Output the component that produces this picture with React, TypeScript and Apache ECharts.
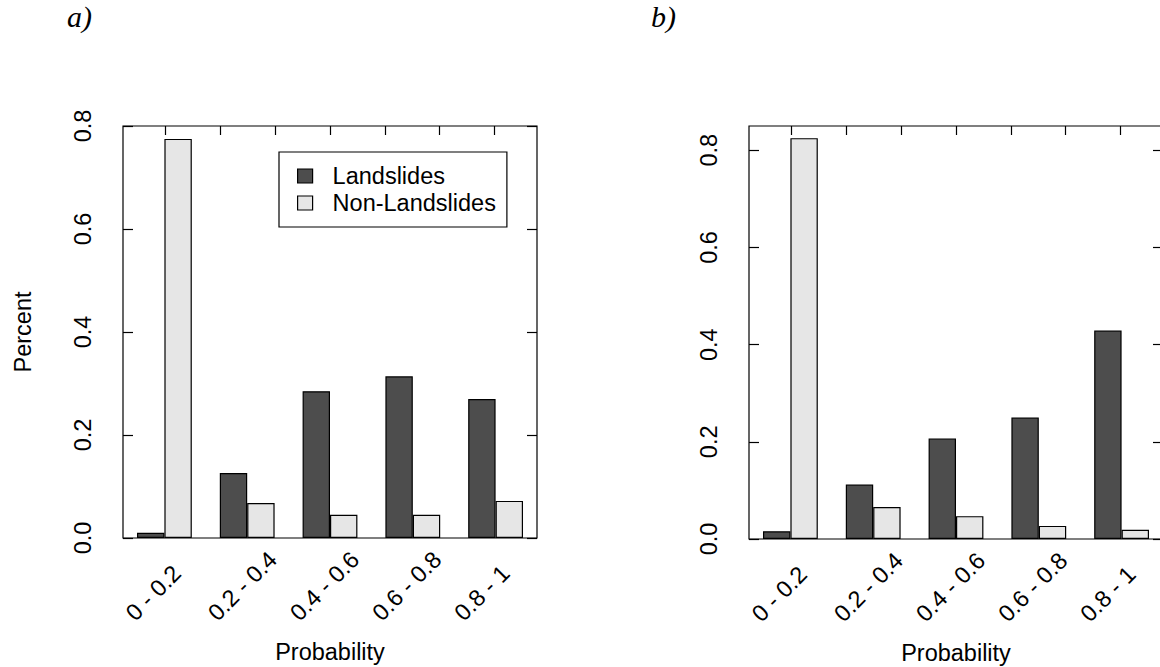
import React, { useEffect, useRef } from 'react';
import * as echarts from 'echarts';

// ---- data ----
const categories = ['0 - 0.2', '0.2 - 0.4', '0.4 - 0.6', '0.6 - 0.8', '0.8 - 1'];
const landslidesA = [0.01, 0.126, 0.285, 0.314, 0.27];
const nonLandslidesA = [0.775, 0.068, 0.045, 0.045, 0.072];
const landslidesB = [0.016, 0.112, 0.207, 0.25, 0.429];
const nonLandslidesB = [0.825, 0.066, 0.047, 0.027, 0.019];
const yTickValues = [0, 0.2, 0.4, 0.6, 0.8];
const yMaxA = 0.8;
const yMaxB = 0.85;
const seriesNames = ['Landslides', 'Non-Landslides'];
const panelTitles = ['a)', 'b)'];
const xTitle = 'Probability';
const yTitle = 'Percent';

// ---- style / layout ----
const FONT = "'Liberation Sans', Arial, Helvetica, sans-serif";
const DARK = '#4d4d4d';
const LIGHT = '#e6e6e6';
const FS = 23.5;
// R-style bar units: group i spans [3i+1, 3i+3]; plot range padded 4%
const X_MIN = 0.44;
const X_MAX = 15.56;
const labelPositions = categories.map((_, i) => 3 * i + 1);
const topTickPositions = [2, 4, 6, 8, 10, 12, 14];

function buildPanel(gridIndex: number, yMax: number, withYName: boolean) {
  const xAxes: any[] = [
    {
      gridIndex,
      type: 'category',
      data: categories,
      position: 'bottom',
      axisLine: { show: false, onZero: false },
      axisTick: { show: false },
      axisLabel: { show: false },
      splitLine: { show: false },
      name: xTitle,
      nameLocation: 'middle',
      nameGap: 102,
      nameTextStyle: { fontFamily: FONT, fontSize: FS, color: '#000' },
    },
    {
      gridIndex,
      type: 'value',
      position: 'bottom',
      min: X_MIN,
      max: X_MAX,
      axisLine: { show: false, onZero: false },
      axisTick: { show: false },
      splitLine: { show: false },
      axisLabel: {
        show: true,
        customValues: labelPositions,
        rotate: 45,
        align: 'left',
        verticalAlign: 'bottom',
        margin: 87,
        fontFamily: FONT,
        fontSize: FS,
        color: '#000',
        formatter: (v: number) => categories[Math.round((v - 1) / 3)] ?? '',
      },
    },
    {
      gridIndex,
      type: 'value',
      position: 'top',
      min: X_MIN,
      max: X_MAX,
      axisLine: { show: false, onZero: false },
      axisTick: {
        show: true,
        inside: true,
        length: 9,
        customValues: topTickPositions,
        lineStyle: { color: '#000', width: 1.2 },
      },
      axisLabel: { show: false },
      splitLine: { show: false },
    },
  ];
  const yAxes: any[] = [
    {
      gridIndex,
      type: 'value',
      position: 'left',
      min: 0,
      max: yMax,
      axisLine: { show: false, onZero: false },
      axisTick: {
        show: true,
        inside: true,
        length: 10,
        customValues: yTickValues,
        lineStyle: { color: '#000', width: 1.2 },
      },
      axisLabel: {
        show: true,
        customValues: yTickValues,
        rotate: 90,
        margin: 28,
        fontFamily: FONT,
        fontSize: FS,
        color: '#000',
        formatter: (v: number) => v.toFixed(1),
      },
      splitLine: { show: false },
      name: withYName ? yTitle : '',
      nameLocation: 'middle',
      nameGap: 88,
      nameTextStyle: { fontFamily: FONT, fontSize: FS, color: '#000' },
    },
    {
      gridIndex,
      type: 'value',
      position: 'right',
      min: 0,
      max: yMax,
      axisLine: { show: false, onZero: false },
      axisTick: {
        show: true,
        inside: true,
        length: 10,
        customValues: yTickValues,
        lineStyle: { color: '#000', width: 1.2 },
      },
      axisLabel: { show: false },
      splitLine: { show: false },
    },
  ];
  return { xAxes, yAxes };
}

function barSeries(name: string, data: number[], color: string, xAxisIndex: number, yAxisIndex: number) {
  return {
    type: 'bar',
    name,
    data,
    xAxisIndex,
    yAxisIndex,
    barWidth: '33.1%',
    barGap: '0%',
    itemStyle: { color, borderColor: '#000', borderWidth: 1.2 },
    emphasis: { disabled: true },
  };
}

export default function App() {
  const ref = useRef<HTMLDivElement>(null);
  useEffect(() => {
    if (!ref.current) return;
    const chart = echarts.init(ref.current, null, { renderer: 'svg' });
    const pa = buildPanel(0, yMaxA, true);
    const pb = buildPanel(1, yMaxB, false);
    const titleStyle = {
      fontFamily: "'Liberation Serif', 'Times New Roman', serif",
      fontStyle: 'italic',
      fontWeight: 'normal',
      fontSize: 30,
      color: '#000',
    };
    const option: any = {
      animation: false,
      backgroundColor: '#fff',
      title: [
        { text: panelTitles[0], left: 67, top: 1, padding: 0, textStyle: titleStyle },
        { text: panelTitles[1], left: 651, top: 1, padding: 0, textStyle: titleStyle },
      ],
      legend: {
        data: seriesNames,
        orient: 'vertical',
        left: 279,
        top: 152,
        padding: [12, 11, 12, 18],
        itemWidth: 15,
        itemHeight: 14,
        itemGap: 3,
        icon: 'rect',
        borderColor: '#000',
        borderWidth: 1.2,
        selectedMode: false,
        itemStyle: { borderColor: '#000', borderWidth: 1.2 },
        textStyle: { fontFamily: FONT, fontSize: FS, color: '#000', padding: [0, 0, 0, 15] },
      },
      grid: [
        { left: 123, top: 126, width: 414, height: 412, show: true, borderColor: '#000', borderWidth: 1.2, backgroundColor: 'transparent', outerBoundsMode: 'none', containLabel: false },
        { left: 749, top: 126, width: 414, height: 413, show: true, borderColor: '#000', borderWidth: 1.2, backgroundColor: 'transparent', outerBoundsMode: 'none', containLabel: false },
      ],
      xAxis: [...pa.xAxes, ...pb.xAxes],
      yAxis: [...pa.yAxes, ...pb.yAxes],
      series: [
        barSeries(seriesNames[0], landslidesA, DARK, 0, 0),
        barSeries(seriesNames[1], nonLandslidesA, LIGHT, 0, 0),
        barSeries(seriesNames[0], landslidesB, DARK, 3, 2),
        barSeries(seriesNames[1], nonLandslidesB, LIGHT, 3, 2),
      ],
    };
    chart.setOption(option);
    return () => chart.dispose();
  }, []);
  return (
    <div
      ref={ref}
      style={{ position: 'fixed', left: 0, top: 0, width: 1160, height: 667, background: '#fff' }}
    />
  );
}
